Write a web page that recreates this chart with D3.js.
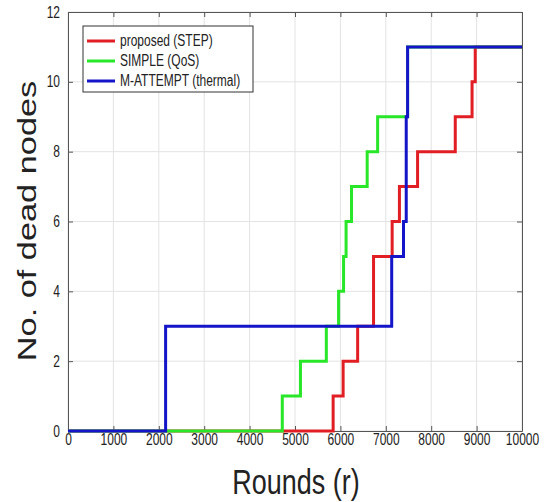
<!DOCTYPE html>
<html>
<head>
<meta charset="utf-8">
<script src="https://cdn.jsdelivr.net/npm/d3@7"></script>
<style>
  body { margin: 0; background: #fff; }
  text { font-family: "Liberation Sans", Arial, sans-serif; fill: #222; }
</style>
</head>
<body>
<div class="dead-nodes-chart"></div>
<script>
// step points: rounds where the count changes, and the count from there on
var roundsStep = [0, 5840, 6060, 6380, 6730, 7140, 7300, 7700, 8530, 8900, 8970, 10000]
var deadStep = [0, 1, 2, 3, 5, 6, 7, 8, 9, 10, 11, 11]

var roundsQos = [0, 4720, 5120, 5690, 5960, 6070, 6125, 6245, 6590, 6820, 7480, 10000]
var deadQos = [0, 1, 2, 3, 4, 5, 6, 7, 8, 9, 11, 11]

var roundsThermal = [0, 2150, 7130, 7390, 7450, 7480, 10000]
var deadThermal = [0, 3, 5, 6, 9, 11, 11]

var seriesNames = ["proposed (STEP)", "SIMPLE (QoS)", "M-ATTEMPT (thermal)"]
var xTicks = [0, 1000, 2000, 3000, 4000, 5000, 6000, 7000, 8000, 9000, 10000]
var yTicks = [0, 2, 4, 6, 8, 10, 12]

var colors = ["#e11e23", "#28e628", "#1414c8"]
var stretch = 1.32

var margin = { top: 12, right: 27, bottom: 71, left: 68 },
	width = 549 - margin.left - margin.right,
	height = 502 - margin.top - margin.bottom;

var svg = d3.select('.dead-nodes-chart').append("svg")
	.attr("width", 549)
	.attr("height", 502);

var g = svg.append("g")
	.attr("transform", "translate(" + margin.left + "," + margin.top + ")");

var x = d3.scaleLinear()
	.domain([0, 10000])
	.range([0, width])

var y = d3.scaleLinear()
	.domain([0, 12])
	.range([height, 0])

// grid
g.selectAll(".grid-x")
	.data(xTicks)
	.enter().append("line")
	.attr("x1", d => x(d)).attr("x2", d => x(d))
	.attr("y1", 0).attr("y2", height)
	.attr("stroke", "#e3e3e3")

g.selectAll(".grid-y")
	.data(yTicks)
	.enter().append("line")
	.attr("y1", d => y(d)).attr("y2", d => y(d))
	.attr("x1", 0).attr("x2", width)
	.attr("stroke", "#e3e3e3")

// axes with inward ticks, MATLAB style
var xAxis = g.append("g")
	.attr("transform", "translate(0," + height + ")")
	.call(d3.axisBottom(x).tickValues(xTicks).tickSizeInner(-5).tickSizeOuter(0).tickFormat(d3.format("d")))
var xTop = g.append("g")
	.call(d3.axisTop(x).tickValues(xTicks).tickSizeInner(-5).tickSizeOuter(0).tickFormat(""))
var yAxis = g.append("g")
	.call(d3.axisLeft(y).tickValues(yTicks).tickSizeInner(-5).tickSizeOuter(0))
var yRight = g.append("g")
	.attr("transform", "translate(" + width + ",0)")
	.call(d3.axisRight(y).tickValues(yTicks).tickSizeInner(-5).tickSizeOuter(0).tickFormat(""))

g.selectAll(".domain, .tick line").attr("stroke", "#555")

xAxis.selectAll("text")
	.attr("font-size", 12)
	.attr("fill", "#333")
	.attr("dy", null)
	.attr("y", 0)
	.attr("transform", "translate(0,14) scale(1," + stretch + ")")

yAxis.selectAll("text")
	.attr("font-size", 12)
	.attr("fill", "#333")
	.attr("dy", null)
	.attr("x", 0)
	.attr("transform", "translate(-8,5) scale(1," + stretch + ")")

// lines
var line = d3.line()
	.curve(d3.curveStepAfter)
	.x(d => x(d[0]))
	.y(d => y(d[1]))

var series = [
	d3.zip(roundsStep, deadStep),
	d3.zip(roundsQos, deadQos),
	d3.zip(roundsThermal, deadThermal)
]

g.selectAll(".series")
	.data(series)
	.enter().append("path")
	.attr("d", line)
	.attr("fill", "none")
	.attr("stroke", (d, i) => colors[i])
	.attr("stroke-width", 3)

// legend
var legend = g.append("g")
	.attr("transform", "translate(15,14)")

legend.append("rect")
	.attr("width", 170)
	.attr("height", 66)
	.attr("fill", "#fff")
	.attr("stroke", "#333")

seriesNames.forEach(function (name, i) {
	var ly = 15 + i * 20
	legend.append("line")
		.attr("x1", 4).attr("x2", 32)
		.attr("y1", ly).attr("y2", ly)
		.attr("stroke", colors[i])
		.attr("stroke-width", 3)
	legend.append("text")
		.attr("transform", "translate(37," + (ly + 5) + ") scale(1," + stretch + ")")
		.attr("font-size", 12)
		.text(name)
})

// axis titles
svg.append("text")
	.attr("transform", "translate(296,494) scale(1," + stretch + ")")
	.attr("text-anchor", "middle")
	.attr("font-size", 27)
	.text("Rounds (r)")

svg.append("text")
	.attr("transform", "translate(36,221) rotate(-90) scale(" + stretch + ",1)")
	.attr("text-anchor", "middle")
	.attr("font-size", 26)
	.text("No. of dead nodes")
</script>
</body>
</html>
